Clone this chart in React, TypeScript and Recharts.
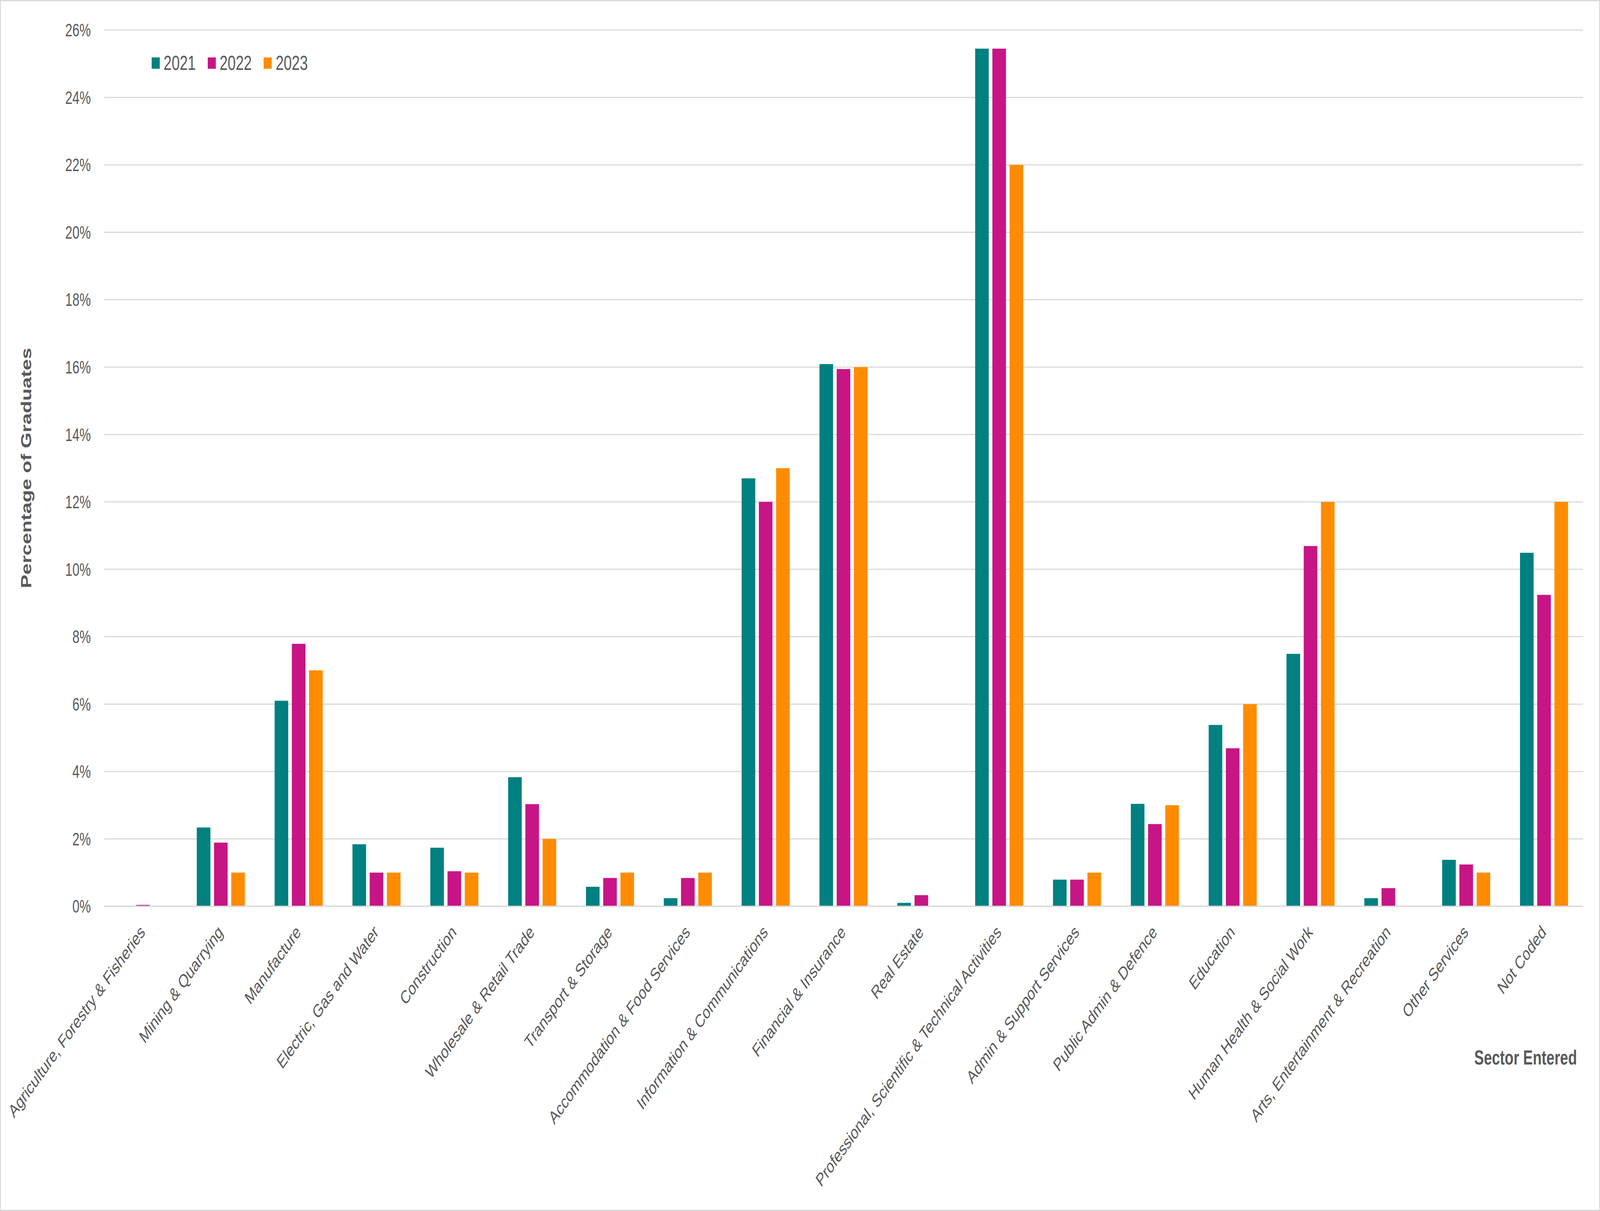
import { Bar, BarChart, CartesianGrid, Legend, XAxis, YAxis } from "recharts";

document.body.style.margin = "0";

const categories = [
  "Agriculture, Forestry & Fisheries",
  "Mining & Quarrying",
  "Manufacture",
  "Electric, Gas and Water",
  "Construction",
  "Wholesale & Retail Trade",
  "Transport & Storage",
  "Accommodation & Food Services",
  "Information & Communications",
  "Financial & Insurance",
  "Real Estate",
  "Professional, Scientific & Technical Activities",
  "Admin & Support Services",
  "Public Admin & Defence",
  "Education",
  "Human Health & Social Work",
  "Arts, Entertainment & Recreation",
  "Other Services",
  "Not Coded",
];

const values2021 = [0, 2.34, 6.1, 1.84, 1.74, 3.83, 0.58, 0.24, 12.7, 16.09, 0.1, 25.45, 0.79, 3.04, 5.38, 7.49, 0.24, 1.38, 10.49];
const values2022 = [0.04, 1.89, 7.79, 1.0, 1.04, 3.03, 0.84, 0.84, 12.0, 15.94, 0.33, 25.45, 0.79, 2.44, 4.69, 10.69, 0.54, 1.24, 9.24];
const values2023 = [0, 1.0, 7.0, 1.0, 1.0, 2.0, 1.0, 1.0, 13.0, 16.0, 0, 22.0, 1.0, 3.0, 6.0, 12.0, 0, 1.0, 12.0];

const years = ["2021", "2022", "2023"];
const colors = ["#008080", "#C71585", "#FF8C00"];
const yTicks = [0, 2, 4, 6, 8, 10, 12, 14, 16, 18, 20, 22, 24, 26];

const data = categories.map((name, i) => ({
  name,
  "2021": values2021[i],
  "2022": values2022[i],
  "2023": values2023[i],
}));

const W = 5760;
const H = 3100;
const TEXT = "#595959";
const GRID = "#d9d9d9";
const FONT = "'Liberation Sans', Arial, sans-serif";

function XTick({ x, y, payload }: any) {
  const tx = x + 10;
  const ty = y + 69;
  return (
    <text
      x={tx}
      y={ty}
      transform={`rotate(-45 ${tx} ${ty})`}
      textAnchor="end"
      fontSize={47}
      fill={TEXT}
      fontFamily={FONT}
    >
      {payload.value}
    </text>
  );
}

function LegendBox() {
  return (
    <div style={{ display: "flex", alignItems: "center", fontFamily: FONT, fontSize: 52, lineHeight: "52px", color: TEXT }}>
      {years.map((y, i) => (
        <div key={y} style={{ display: "flex", alignItems: "center", marginRight: 43 }}>
          <span style={{ width: 29, height: 29, background: colors[i], marginRight: 14, display: "inline-block" }} />
          <span>{y}</span>
        </div>
      ))}
    </div>
  );
}

export default function App() {
  // the browser may give a narrower viewport than 5760x3100; stretch the fixed drawing to fill it
  const vw = typeof window !== "undefined" ? window.innerWidth : W;
  const vh = typeof window !== "undefined" ? window.innerHeight : H;
  const sx = Math.min(1, vw / W);
  const sy = Math.min(1, vh / H);
  return (
    <div style={{ width: W * sx, height: H * sy, overflow: "hidden" }}>
      <div
        style={{
          position: "relative",
          width: W,
          height: H,
          background: "#fff",
          transform: `scale(${sx}, ${sy})`,
          transformOrigin: "0 0",
        }}
      >
        <BarChart
          width={W}
          height={H}
          data={data}
          margin={{ top: 77, right: 61, bottom: 0, left: 0 }}
          barCategoryGap="19%"
          barGap={13}
        >
          <CartesianGrid vertical={false} stroke={GRID} strokeWidth={3} />
          <XAxis
            dataKey="name"
            height={780}
            interval={0}
            tickLine={false}
            tickSize={0}
            tickMargin={0}
            axisLine={{ stroke: GRID, strokeWidth: 3 }}
            tick={<XTick />}
            label={{
              content: () => (
                <text x={5677} y={2725} textAnchor="end" fontSize={52} fontWeight="bold" fill={TEXT} fontFamily={FONT}>
                  Sector Entered
                </text>
              ),
            }}
          />
          <YAxis
            width={375}
            domain={[0, 26]}
            ticks={yTicks}
            interval={0}
            tickLine={false}
            axisLine={false}
            tickSize={0}
            tickMargin={48}
            tickFormatter={(v: number) => `${v}%`}
            tick={{ fontSize: 46, fill: TEXT, fontFamily: FONT }}
            label={{
              content: () => (
                <text
                  x={112}
                  y={1198}
                  transform="rotate(-90 112 1198)"
                  textAnchor="middle"
                  fontSize={52}
                  fontWeight="bold"
                  fill={TEXT}
                  fontFamily={FONT}
                >
                  Percentage of Graduates
                </text>
              ),
            }}
          />
          <Legend
            layout="horizontal"
            verticalAlign="middle"
            align="center"
            content={() => <LegendBox />}
            wrapperStyle={{ position: "absolute", top: 135, left: 546, width: "auto" }}
          />
          {years.map((y, i) => (
            <Bar key={y} dataKey={y} name={y} fill={colors[i]} isAnimationActive={false} />
          ))}
        </BarChart>
        <div
          style={{
            position: "absolute",
            inset: 0,
            border: `3px solid ${GRID}`,
            pointerEvents: "none",
          }}
        />
      </div>
    </div>
  );
}
